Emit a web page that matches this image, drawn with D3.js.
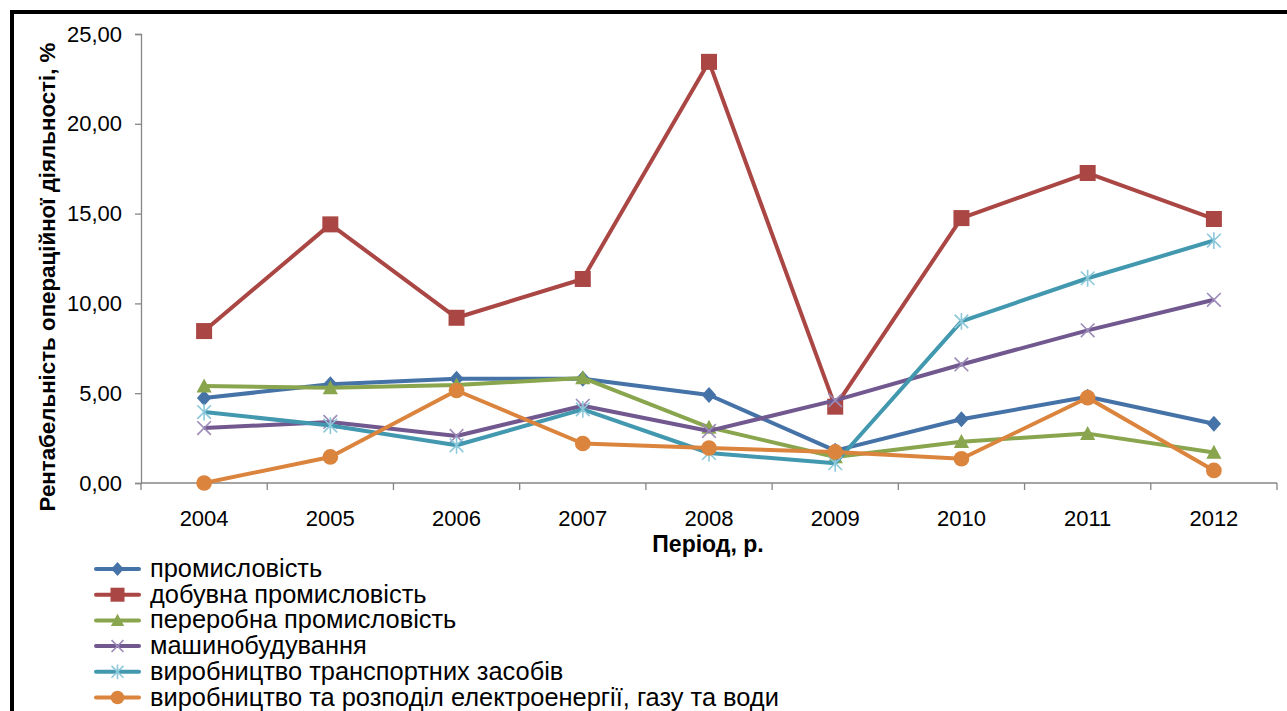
<!DOCTYPE html>
<html>
<head>
<meta charset="utf-8">
<script src="https://cdn.jsdelivr.net/npm/d3@7"></script>
<style>
  html, body { margin: 0; padding: 0; background: #fff; }
  svg { display: block; font-family: "Liberation Sans", Arial, sans-serif; }
</style>
</head>
<body>
<svg id="chart" width="1287" height="711"></svg>
<script>
// Роки (категорії осі X)
const years = ["2004", "2005", "2006", "2007", "2008", "2009", "2010", "2011", "2012"];

// Рентабельність операційної діяльності за галузями, %
const promyslovist   = [4.73, 5.50, 5.80, 5.80, 4.90, 1.80, 3.55, 4.80, 3.30];
const dobuvna        = [8.46, 14.40, 9.20, 11.36, 23.45, 4.25, 14.75, 17.26, 14.70];
const pererobna      = [5.40, 5.30, 5.45, 5.85, 3.10, 1.45, 2.30, 2.75, 1.70];
const mashynobuduv   = [3.06, 3.40, 2.62, 4.30, 2.90, 4.60, 6.60, 8.50, 10.20];
const transport      = [3.95, 3.20, 2.10, 4.10, 1.67, 1.10, 9.00, 11.40, 13.50];
const elektroenergia = [0.00, 1.45, 5.15, 2.20, 1.95, 1.73, 1.35, 4.75, 0.70];

const seriesNames = [
  "промисловість",
  "добувна промисловість",
  "переробна промисловість",
  "машинобудування",
  "виробництво транспортних засобів",
  "виробництво та розподіл електроенергії, газу та води"
];

// Поділки осі Y
const yTicks = [0, 5, 10, 15, 20, 25];

const seriesValues = [promyslovist, dobuvna, pererobna, mashynobuduv, transport, elektroenergia];
const colors = ["#4572A7", "#AA4643", "#89A54E", "#71588F", "#4198AF", "#DB843D"];
const markerLight = ["#4572A7", "#AA4643", "#89A54E", "#9C8AB8", "#8CC8DA", "#DB843D"];
const markers = ["diamond", "square", "triangle", "cross", "star", "circle"];

const svg = d3.select("#chart");

// Рамка
svg.append("rect")
  .attr("x", 12).attr("y", 12)
  .attr("width", 1400).attr("height", 800)
  .attr("fill", "none").attr("stroke", "#000").attr("stroke-width", 4);

const plot = { left: 141, right: 1277, top: 34, bottom: 483 };

const x = d3.scaleBand().domain(years).range([plot.left, plot.right]).padding(0);
const y = d3.scaleLinear().domain([0, 25]).range([plot.bottom, plot.top]);
const cx = d => x(d) + x.bandwidth() / 2;

// Вісь Y
const yAxis = d3.axisLeft(y)
  .tickValues(yTicks)
  .tickSize(6)
  .tickPadding(13)
  .tickFormat(d => d3.format(".2f")(d).replace(".", ","));
const gy = svg.append("g").attr("transform", `translate(${plot.left},0)`).call(yAxis);
gy.select(".domain").attr("stroke", "#868686").attr("stroke-width", 1.3);
gy.selectAll(".tick line").attr("stroke", "#868686").attr("stroke-width", 1.3);
gy.selectAll(".tick text").attr("font-size", 22).attr("fill", "#000")
  .attr("font-family", "Liberation Sans, Arial, sans-serif");

// Вісь X (поділки на межах категорій)
const gx = svg.append("g").attr("transform", `translate(0,${plot.bottom})`);
gx.append("line")
  .attr("x1", plot.left).attr("x2", plot.right)
  .attr("stroke", "#868686").attr("stroke-width", 1.3);
const bounds = years.map(d => x(d)).concat([plot.right]);
gx.selectAll("line.tk").data(bounds).join("line")
  .attr("class", "tk")
  .attr("x1", d => d).attr("x2", d => d)
  .attr("y1", 0).attr("y2", 7)
  .attr("stroke", "#868686").attr("stroke-width", 1.3);
gx.selectAll("text").data(years).join("text")
  .attr("x", d => cx(d)).attr("y", 43)
  .attr("text-anchor", "middle")
  .attr("font-size", 22).attr("fill", "#000")
  .text(d => d);

// Підписи осей
svg.append("text")
  .attr("transform", `translate(55,${277}) rotate(-90)`)
  .attr("text-anchor", "middle")
  .attr("font-size", 22.3).attr("font-weight", "bold")
  .text("Рентабельність операційної діяльності, %");

svg.append("text")
  .attr("x", 708).attr("y", 552)
  .attr("text-anchor", "middle")
  .attr("font-size", 23).attr("font-weight", "bold")
  .text("Період, р.");

// Маркери
function drawMarker(g, type, color, light, size) {
  const s = size;
  if (type === "diamond") {
    g.append("path").attr("d", `M0,${-s}L${s * 0.9},0L0,${s}L${-s * 0.9},0Z`).attr("fill", color);
  } else if (type === "square") {
    g.append("rect").attr("x", -s).attr("y", -s)
      .attr("width", s * 2).attr("height", s * 2).attr("fill", color);
  } else if (type === "triangle") {
    g.append("path").attr("d", `M0,${-s * 0.95}L${s * 0.95},${s * 0.8}L${-s * 0.95},${s * 0.8}Z`).attr("fill", color);
  } else if (type === "cross") {
    const a = s * 0.85;
    g.append("path").attr("d", `M${-a},${-a}L${a},${a}M${-a},${a}L${a},${-a}`)
      .attr("stroke", light).attr("stroke-width", 1.6).attr("fill", "none");
  } else if (type === "star") {
    const a = s * 0.85;
    g.append("path").attr("d", `M${-a},${-a}L${a},${a}M${-a},${a}L${a},${-a}M0,${-s * 1.05}L0,${s * 1.05}`)
      .attr("stroke", light).attr("stroke-width", 1.6).attr("fill", "none");
  } else if (type === "circle") {
    g.append("circle").attr("r", s * 0.98).attr("fill", color);
  }
}

const line = d3.line().x((d, i) => cx(years[i])).y(d => y(d));

seriesValues.forEach((vals, si) => {
  const g = svg.append("g");
  g.append("path")
    .datum(vals)
    .attr("d", line)
    .attr("fill", "none")
    .attr("stroke", colors[si])
    .attr("stroke-width", 4)
    .attr("stroke-linejoin", "round");
  vals.forEach((v, i) => {
    const m = g.append("g").attr("transform", `translate(${cx(years[i])},${y(v)})`);
    drawMarker(m, markers[si], colors[si], markerLight[si], 8);
  });
});

// Легенда
const legend = svg.append("g");
const legY0 = 569, legDy = 25.7;
seriesNames.forEach((name, i) => {
  const yy = legY0 + i * legDy;
  const g = legend.append("g").attr("transform", `translate(0,${yy})`);
  g.append("line").attr("x1", 96).attr("x2", 139)
    .attr("stroke", colors[i]).attr("stroke-width", 4).attr("stroke-linecap", "round");
  const m = g.append("g").attr("transform", "translate(117.5,0)");
  drawMarker(m, markers[i], colors[i], markerLight[i], 7);
  g.append("text").attr("x", 150).attr("y", 8)
    .attr("font-size", 25.4).attr("fill", "#000")
    .text(name);
});
</script>
</body>
</html>
